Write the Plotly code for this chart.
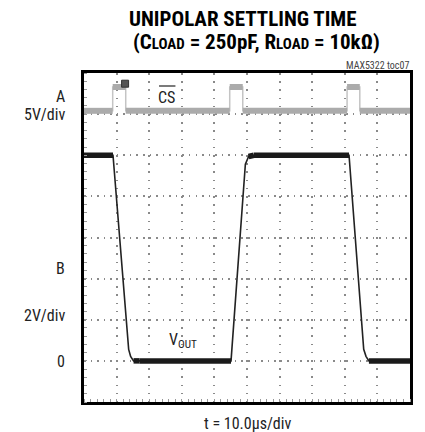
import plotly.graph_objects as go

# ---- data (time in divisions, amplitude in divisions) ----
vout_t = [0, 0.89, 1.37, 1.43, 1.52, 1.70, 4.51, 4.95, 5.05, 5.21, 8.13, 8.58, 8.65, 8.74, 10]
vout_v = [6.0, 6.0, 1.28, 1.11, 1.0, 1.0, 1.0, 5.78, 5.97, 6.0, 6.0, 1.28, 1.11, 1.0, 1.0]

cs_t = [0, 0.88, 0.88, 1.28, 1.28, 4.47, 4.47, 4.87, 4.87, 8.07, 8.07, 8.46, 8.46, 10]
cs_v = [7.08, 7.08, 7.66, 7.66, 7.08, 7.08, 7.66, 7.66, 7.08, 7.08, 7.66, 7.66, 7.08, 7.08]

trig_t = [1.26]
trig_v = [7.74]

x_ticks = list(range(0, 11))
y_ticks = list(range(0, 9))

FONT = "Roboto Condensed, Liberation Sans Narrow, sans-serif"


def flat_segments(t, v, tol=0.05):
    xs, ys = [], []
    for i in range(len(t) - 1):
        if abs(v[i + 1] - v[i]) < tol:
            xs += [t[i], t[i + 1], None]
            ys += [v[i], v[i + 1], None]
    return xs, ys


fig = go.Figure()

# CS trace (gray)
fig.add_trace(go.Scatter(x=cs_t, y=cs_v, mode="lines",
                         line=dict(color="#c4c4c4", width=1.5), hoverinfo="skip"))
cx, cy = flat_segments(cs_t, cs_v)
fig.add_trace(go.Scatter(x=cx, y=cy, mode="lines",
                         line=dict(color="#ababab", width=6), hoverinfo="skip"))

# VOUT trace (black)
fig.add_trace(go.Scatter(x=vout_t, y=vout_v, mode="lines",
                         line=dict(color="#222", width=1.6), hoverinfo="skip"))
vx, vy = flat_segments(vout_t, vout_v)
fig.add_trace(go.Scatter(x=vx, y=vy, mode="lines",
                         line=dict(color="#1a1a1a", width=5.5), hoverinfo="skip"))

# trigger marker
fig.add_trace(go.Scatter(x=trig_t, y=trig_v, mode="markers",
                         marker=dict(symbol="square", size=7, color="#555",
                                     line=dict(color="#333", width=1)),
                         hoverinfo="skip"))

W, H = 425, 432
L, R, T, B = 84, 13, 73, 30
PW, PH = W - L - R, H - T - B


def px(x):
    return (x - L) / PW


def py(y):
    return (H - B - y) / PH


annots = []


def txt(text, x, y, size, anchor="center", color="#222"):
    annots.append(dict(text=text, x=px(x), y=py(y), xref="paper", yref="paper",
                       xanchor=anchor, yanchor="middle", showarrow=False, borderpad=0,
                       font=dict(family=FONT, size=size, color=color)))


txt("<b>UNIPOLAR SETTLING TIME</b>", 243.5, 19, 21, color="#000")
txt("<b>(C<span style='font-size:15px'>LOAD</span> = 250pF, R<span style='font-size:15px'>LOAD</span> = 10kΩ)</b>",
    258, 42, 21, color="#000")
txt("MAX5322 toc07", 412, 65, 10, anchor="right", color="#444")
txt("A", 66, 96, 16, anchor="right")
txt("5V/div", 66, 115, 16, anchor="right")
txt("B", 66, 268, 16, anchor="right")
txt("2V/div", 66, 315, 16, anchor="right")
txt("0", 66, 361, 16, anchor="right")
txt("t = 10.0μs/div", 248.5, 423, 16)
txt("CS", 167.5, 97, 16)
txt("V<sub>OUT</sub>", 184, 340, 16)

fig.update_layout(
    width=W, height=H,
    margin=dict(l=L, r=R, t=T, b=B),
    paper_bgcolor="white", plot_bgcolor="white",
    showlegend=False,
    annotations=annots,
    shapes=[dict(type="line", xref="paper", yref="paper",
                 x0=px(159.5), x1=px(176), y0=py(86), y1=py(86),
                 line=dict(color="#222", width=1.2))],
)

axis_common = dict(showline=True, linewidth=3, linecolor="black", mirror=True,
                   showticklabels=False, zeroline=False, ticks="",
                   gridcolor="#8a8a8a", gridwidth=1.5)

fig.update_xaxes(range=[0, 10], tickvals=x_ticks, griddash="1.5px,6.7px",
                 minor=dict(dtick=0.2, ticks="inside", ticklen=3, tickcolor="#999", showgrid=False),
                 **axis_common)
fig.update_yaxes(range=[0, 8], tickvals=y_ticks, griddash="1.5px,5.06px",
                 minor=dict(dtick=0.2, ticks="inside", ticklen=3, tickcolor="#999", showgrid=False),
                 **axis_common)

fig.write_html("out.html", config={"displayModeBar": False},
               post_script="document.body.style.margin='0';")
